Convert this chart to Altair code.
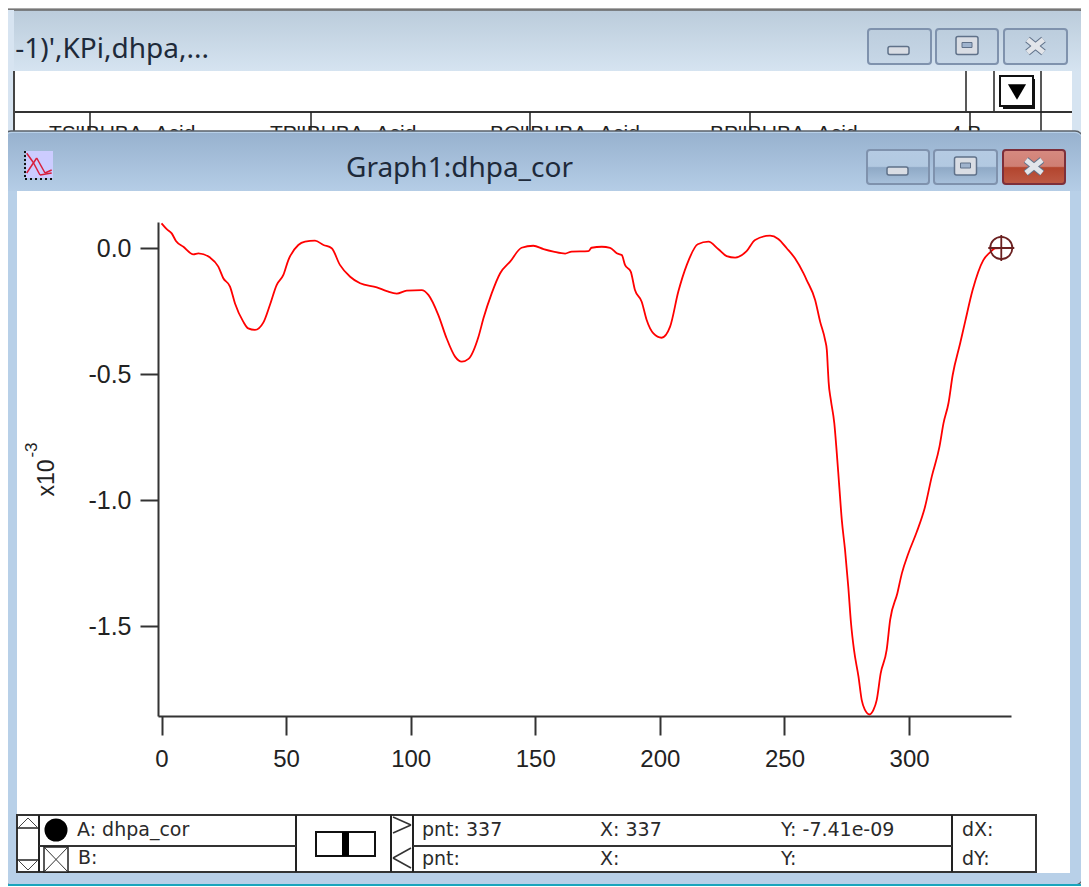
import altair as alt
import pandas as pd

# Trace values, in units of 1e-3
xs = [0, 2.1, 4.1, 5.8, 8.8, 12.8, 14.8, 19.5, 22.8, 24.8, 27.5, 29.5, 32.8, 34.8, 37.5, 40.9, 43.5, 46.2, 48.9, 50.9,
      54.9, 57.6, 61.6, 65.0, 68.3, 71.6, 75.7, 79.7, 86.4, 90.4, 94.4, 98.4, 104.4, 107.1, 111.1, 114.4, 117.8, 120.5,
      123.2, 127.2, 129.2, 132.5, 135.9, 139.9, 144.5, 149.2, 153.3, 157.3, 162.0, 164.6, 171.3, 172.6, 176.7, 180.0,
      182.7, 184.7, 186.0, 188.3, 190.0, 192.7, 194.7, 197.4, 200.7, 204.1, 207.4, 210.8, 215.2, 219.5, 223.5, 226.8,
      230.2, 234.8, 238.2, 244.2, 247.5, 250.9, 254.2, 257.6, 258.9, 262.3, 264.3, 266.3, 267.0, 267.4, 267.7, 268.6,
      270.0, 270.9, 271.9, 273.0, 274.3, 275.6, 276.7, 277.9, 279.7, 281.0, 282.3, 284.1, 285.7, 287.0, 288.6, 291.0,
      292.4, 295.3, 297.1, 299.7, 303.1, 306.4, 309.1, 312.2, 313.8, 315.8, 317.5, 320.5, 322.5, 325.5, 329.8, 332.5,
      334.5, 337]
ys = [0.098, 0.075, 0.058, 0.028, 0.005, -0.025, -0.021, -0.038, -0.074, -0.120, -0.153, -0.220, -0.292, -0.319, -0.325,
      -0.295, -0.226, -0.147, -0.107, -0.048, 0.012, 0.025, 0.029, 0.012, -0.001, -0.067, -0.114, -0.140, -0.156, -0.171,
      -0.181, -0.169, -0.167, -0.186, -0.266, -0.358, -0.431, -0.451, -0.440, -0.352, -0.279, -0.180, -0.100, -0.054,
      0.001, 0.009, -0.004, -0.014, -0.022, -0.014, -0.012, 0.001, 0.005, 0.001, -0.021, -0.028, -0.067, -0.094, -0.167,
      -0.213, -0.286, -0.339, -0.356, -0.312, -0.173, -0.067, 0.015, 0.025, -0.005, -0.032, -0.038, -0.012, 0.032, 0.049,
      0.036, -0.001, -0.041, -0.100, -0.127, -0.206, -0.292, -0.365, -0.405, -0.477, -0.530, -0.603, -0.696, -0.802,
      -0.934, -1.079, -1.198, -1.344, -1.489, -1.595, -1.701, -1.794, -1.833, -1.851, -1.833, -1.794, -1.688, -1.595,
      -1.476, -1.370, -1.291, -1.212, -1.126, -1.027, -0.907, -0.788, -0.696, -0.616, -0.504, -0.378, -0.292, -0.167,
      -0.048, -0.017, -0.001, 0.0]
x_ticks = [0, 50, 100, 150, 200, 250, 300]
y_ticks = [0.0, -0.5, -1.0, -1.5]
cursor_x = [337]
cursor_y = [0.0]

df = pd.DataFrame({"x": xs, "y": ys})
cur = pd.DataFrame({"x": cursor_x, "y": cursor_y})
ONE = pd.DataFrame({"a": [1]})

OX, OY = 158, 222  # image position of the plot origin
W, H = 853, 494
SANS = "Liberation Sans"
UI = "Noto Sans"


def grad(stops):
    return alt.LinearGradient(
        gradient="linear", x1=0, y1=0, x2=0, y2=1,
        stops=[alt.GradientStop(offset=o, color=c) for o, c in stops])


def rect(x0, y0, x1, y1, fill="white", **kw):
    return alt.Chart(ONE).mark_rect(fill=fill, **kw).encode(
        x=alt.value(x0 - OX), x2=alt.value(x1 - OX), y=alt.value(y0 - OY), y2=alt.value(y1 - OY))


def seg(x0, y0, x1, y1, color="#222222", w=2, **kw):
    return alt.Chart(ONE).mark_rule(color=color, strokeWidth=w, **kw).encode(
        x=alt.value(x0 - OX), x2=alt.value(x1 - OX), y=alt.value(y0 - OY), y2=alt.value(y1 - OY))


def txt(x, y, s, size=18, font=SANS, color="#222222", align="left", **kw):
    return alt.Chart(ONE).mark_text(text=s, fontSize=size, font=font, color=color, align=align,
                                    baseline="middle", **kw).encode(
        x=alt.value(x - OX), y=alt.value(y - OY))


def poly(pts, color="#222222", w=2):
    return [seg(a[0], a[1], b[0], b[1], color, w) for a, b in zip(pts, pts[1:])]


BACK_BTN = grad([(0, "#bccddd"), (1, "#c7d7e7")])
FRONT_BTN = grad([(0, "#b5cbe3"), (0.48, "#b2c9e1"), (0.52, "#8fa9c6"), (1, "#a9c2dc")])
RED_BTN = grad([(0, "#d68a80"), (0.48, "#cf7f74"), (0.52, "#b3452e"), (1, "#bd5a45")])


def window_buttons(y0, y1, xs3, fill, close_fill, close_edge):
    parts = []
    (a0, a1), (b0, b1), (c0, c1) = xs3
    cy = (y0 + y1) / 2
    parts.append(rect(a0, y0, a1, y1, fill=fill, stroke="#7f92ad", strokeWidth=2, cornerRadius=3))
    parts.append(rect(b0, y0, b1, y1, fill=fill, stroke="#7f92ad", strokeWidth=2, cornerRadius=3))
    parts.append(rect(c0, y0, c1, y1, fill=close_fill, stroke=close_edge, strokeWidth=2, cornerRadius=3))
    parts.append(rect(a0 + 20, cy + 0, a0 + 41, cy + 8, fill="#d9dde4", stroke="#5f7189", strokeWidth=1.5, cornerRadius=2))
    mx = (b0 + b1) / 2
    parts.append(rect(mx - 11, cy - 10, mx + 11, cy + 8, fill="#d9dde4", stroke="#5f7189", strokeWidth=1.5, cornerRadius=2))
    parts.append(rect(mx - 5, cy - 4, mx + 5, cy + 1, fill="#9fb3cd", stroke="#5f7189", strokeWidth=1))
    kx = (c0 + c1) / 2
    for col, w in [("#5f7189", 7), ("#e2e5ea", 5)]:
        parts.append(seg(kx - 8, cy - 7, kx + 8, cy + 6, col, w))
        parts.append(seg(kx + 8, cy - 7, kx - 8, cy + 6, col, w))
    return parts


chrome = []
# Desktop strip and back window
chrome.append(rect(8, 0, 1089, 10, fill="#a9a9a9"))
chrome.append(rect(8, 10, 1087, 135, fill=grad([(0, "#bbccdb"), (0.5, "#d6e4f1"), (1, "#d6e4f1")]),
                   stroke="#666666", strokeWidth=1.5, cornerRadiusTopRight=8))
chrome.append(rect(8, 10, 14, 135, fill="#d7e4f1"))
chrome.append(txt(209, 50, "-1)',KPi,dhpa,...", size=28, font=UI, color="#1e2a3a", align="right"))
chrome.append(rect(15, 71, 1072, 135, fill="white"))
chrome.append(seg(14, 71, 14, 135, "#444444", 2))
chrome.append(seg(15, 112, 1072, 112, "#333333", 2))
for vx in [90, 311, 530, 750, 970]:
    chrome.append(seg(vx, 112, vx, 135, "#222222", 1.5))
for vx, top, bot in [(966, 71, 111), (994, 71, 111), (1041, 71, 135)]:
    chrome.append(seg(vx, top, vx, bot, "#222222", 1.5))
chrome.append(rect(1003, 79, 1035, 109, fill="#111111"))
chrome.append(rect(1000, 76, 1033, 106, fill="white", stroke="#111111", strokeWidth=2))
chrome.append(alt.Chart(ONE).mark_point(shape="triangle-down", filled=True, color="#000000", size=330, opacity=1).encode(
    x=alt.value(1017 - OX), y=alt.value(92 - OY)))
for tx, s in [(49, "TS'IBUBA_Acid_"), (270, "TP'IBUBA_Acid_"), (490, "BO'IBUBA_Acid_"),
              (710, "BP'IBUBA_Acid_"), (950, "4 B")]:
    chrome.append(txt(tx, 134, s, size=21, color="#222222"))
chrome += window_buttons(29, 64, [(868, 931), (936, 998), (1004, 1067)], BACK_BTN, BACK_BTN, "#7f92ad")

# Front window
chrome.append(rect(3, 131, 1083, 885, fill="#b8d0e8", stroke="#5a6068", strokeWidth=1.5, cornerRadius=8))
chrome.append(rect(5, 133, 1082, 191, fill=grad([(0, "#98b2cf"), (1, "#b5cde6")]), cornerRadiusTopLeft=7,
                   cornerRadiusTopRight=7))
chrome.append(seg(8, 885, 1084, 885, "#1aa5bd", 2))
chrome.append(rect(17, 191, 1070, 873, fill="white"))
chrome.append(txt(459.5, 169, "Graph1:dhpa_cor", size=28, font=UI, color="#1e2a3a", align="center"))
chrome += window_buttons(150, 184, [(867, 929), (934, 997), (1003, 1065)], FRONT_BTN, RED_BTN, "#7d2f3a")

# Icon
chrome.append(rect(26, 151, 53, 178, fill="#ccccff"))
chrome.append(seg(25, 151, 25, 179, "#111111", 2, strokeDash=[2, 2]))
chrome.append(seg(25, 179, 53, 179, "#111111", 2, strokeDash=[2, 3]))
chrome += poly([(26.7, 153.3), (33, 162), (40, 175), (51.7, 173)], "#d81e3a", 1.5)
chrome += poly([(26.7, 173), (36.7, 158), (45, 173), (51.7, 170)], "#d81e3a", 1.5)

# Info bar
chrome.append(rect(17, 815, 1036, 872, fill="white", stroke="#333333", strokeWidth=2))
for vx in [39, 296, 391, 413, 952]:
    chrome.append(seg(vx, 815, vx, 872, "#222222", 2))
chrome.append(seg(39, 846, 296, 846, "#333333", 2))
chrome.append(seg(413, 846, 952, 846, "#333333", 2))
chrome.append(seg(17, 828, 39, 828, "#222222", 1.5))
chrome.append(seg(17, 860, 39, 860, "#222222", 1.5))
chrome += poly([(19, 827), (28, 818), (37, 827)], "#444444", 1)
chrome += poly([(19, 861), (28, 870), (37, 861)], "#444444", 1)
chrome.append(alt.Chart(ONE).mark_point(shape="circle", filled=True, color="#000000", size=530, opacity=1).encode(
    x=alt.value(56 - OX), y=alt.value(830 - OY)))
chrome.append(rect(44, 847, 68, 872, fill="white", stroke="#222222", strokeWidth=1.5))
chrome.append(seg(44, 847, 68, 872, "#333333", 1))
chrome.append(seg(68, 847, 44, 872, "#333333", 1))
chrome.append(rect(316, 832, 375, 856, fill="white", stroke="#111111", strokeWidth=2))
chrome.append(rect(342, 832, 349, 856, fill="#000000"))
chrome += poly([(393, 817), (411, 825), (393, 833)], "#333333", 1.5)
chrome += poly([(411, 848), (393, 858), (411, 868)], "#333333", 1.5)
LABEL = dict(size=19, font="DejaVu Sans", color="#2a2a2a")
for tx, ty, s in [(77, 830, "A: dhpa_cor"), (78, 858, "B:"), (422, 830, "pnt: 337"), (600, 830, "X: 337"),
                  (781, 830, "Y: -7.41e-09"), (962, 830, "dX:"), (422, 859, "pnt:"), (600, 859, "X:"),
                  (781, 859, "Y:"), (962, 859, "dY:")]:
    chrome.append(txt(tx, ty, s, **LABEL))

# Axis exponent label
chrome.append(txt(47, 478, "x10", size=23, angle=270, align="center"))
chrome.append(txt(32, 450, "-3", size=17, angle=270, align="center"))

line = alt.Chart(df).mark_line(color="#ff0000", strokeWidth=1.8, clip=False, interpolate="monotone").encode(
    x=alt.X("x:Q", scale=alt.Scale(domain=[-1.405, 340.9], nice=False, zero=False),
            axis=alt.Axis(values=x_ticks, title=None, grid=False, tickSize=19, tickWidth=2, tickColor="#333333",
                          domainColor="#333333", domainWidth=2, labelFont=SANS, labelFontSize=24,
                          labelColor="#222222", labelPadding=12, labelFlush=False, labelOverlap=False,
                          format="d", zindex=1)),
    y=alt.Y("y:Q", scale=alt.Scale(domain=[-1.857, 0.1032], nice=False, zero=False),
            axis=alt.Axis(values=y_ticks, title=None, grid=False, tickSize=18, tickWidth=2, tickColor="#333333",
                          domainColor="#333333", domainWidth=2, labelFont=SANS, labelFontSize=25,
                          labelColor="#222222", labelPadding=9, labelFlush=False, labelOverlap=False,
                          labelExpr="replace(format(datum.value,'.1f'),'\u2212','-')", zindex=1)),
)

ring = alt.Chart(cur).mark_point(shape="circle", filled=False, color="#6b2020", size=490, strokeWidth=1.8, opacity=1).encode(
    x="x:Q", y="y:Q")
cross = alt.Chart(cur).mark_point(shape="M-1,0L1,0M0,-1L0,1", filled=False, color="#6b2020", size=676, strokeWidth=1.8,
                                  opacity=1).encode(x="x:Q", y="y:Q")

chart = alt.layer(*chrome, line, ring, cross).properties(
    width=W, height=H,
    padding={"left": OX - 8, "top": OY - 8, "right": 1073 - (OX - 8) - W, "bottom": 879 - (OY - 8) - H},
    autosize=alt.AutoSizeParams(type="none", contains="content"),
    background="white",
).configure_view(stroke=None)

chart.save("out.html", embed_options={"renderer": "svg", "actions": False})
